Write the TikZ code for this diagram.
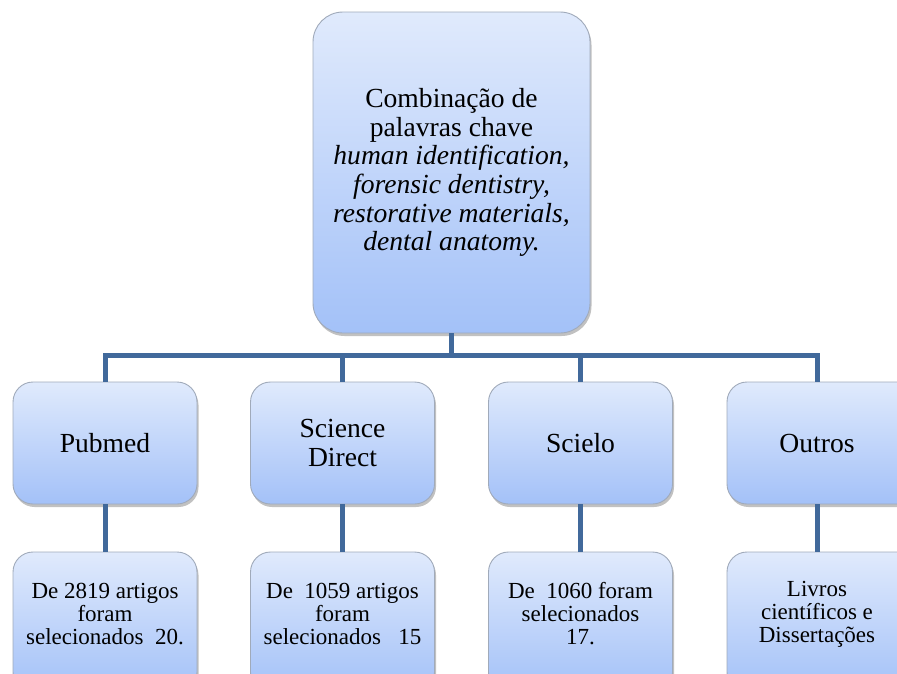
\documentclass[tikz,border=0pt]{standalone}
\usepackage{fontspec}
\setmainfont{Liberation Serif}
\usetikzlibrary{shadows}
\definecolor{conncol}{HTML}{41699B}
\definecolor{boxtop}{HTML}{E0EAFC}
\definecolor{boxbot}{HTML}{A3C1F8}
\definecolor{boxline}{HTML}{A0AABA}
\tikzset{
  card/.style={rectangle, draw=boxline, line width=0.9pt, top color=boxtop, bottom color=boxbot,
    align=center, inner sep=0pt, text=black,
    drop shadow={shadow xshift=1.5pt, shadow yshift=-3pt, opacity=0.35, fill=black!70}},
  topcard/.style={card, rounded corners=30pt, minimum width=277pt, minimum height=321pt,
    font=\fontsize{27.6}{28.6}\selectfont},
  midcard/.style={card, rounded corners=20pt, minimum width=184pt, minimum height=122pt,
    font=\fontsize{27.6}{29}\selectfont},
  lowcard/.style={card, rounded corners=20pt, minimum width=184pt, minimum height=140pt},
  lowtext/.style={align=center, inner sep=0pt, font=\fontsize{23}{23}\selectfont},
  midtext/.style={align=center, inner sep=0pt, font=\fontsize{27.6}{29}\selectfont},
  conn/.style={draw=conncol, line width=5pt}
}
\begin{document}
\begin{tikzpicture}[x=1pt,y=1pt]
\useasboundingbox (0,0) rectangle (897,-673);
\clip (0,0) rectangle (897,-673);
\coordinate (busY) at (0,-355);
% boxes
\node[topcard] (top) at (451.5,-172.5) {Combinação de\\palavras chave\\\textit{human identification,}\\\textit{forensic dentistry,}\\\textit{restorative materials,}\\\textit{dental anatomy.}};
\node[midcard] (pub) at (105,-443) {Pubmed};
\node[midcard] (sci) at (342.5,-443) {Science\\Direct};
\node[midcard] (sel) at (580.5,-443) {Scielo};
\node[midcard, minimum width=230pt] (outbg) at (842,-443) {};
\node[midtext] (out) at (817,-443) {Outros};
\node[lowcard] (pubr) at (105,-622) {};
\node[lowcard] (scir) at (342.5,-622) {};
\node[lowcard] (selr) at (580.5,-622) {};
\node[lowcard, minimum width=230pt] (outr) at (842,-622) {};
\node[lowtext] (pubt) at (105,-614) {De 2819 artigos\\foram\\selecionados\ \ 20.};
\node[lowtext] (scit) at (342.5,-614) {De\ \ 1059 artigos\\foram\\selecionados\ \ \ 15};
\node[lowtext] (selt) at (580.5,-614) {De\ \ 1060 foram\\selecionados\\17.};
\node[lowtext] (outt) at (817,-614) {Livros\\científicos e\\Dissertações};
% connectors
\coordinate (c4) at (817,-382);
\coordinate (d4) at (817,-504);
\coordinate (e4) at (817,-552);
\begin{scope}[on background layer/.try]
\end{scope}
\draw[conn] (top.south) -- (top.south |- busY);
\draw[conn] (pub.north) -- (pub.north |- busY) -- (c4 |- busY) -- (c4);
\draw[conn] (sci.north) -- (sci.north |- busY);
\draw[conn] (sel.north) -- (sel.north |- busY);
\draw[conn] (pub.south) -- (pubr.north);
\draw[conn] (sci.south) -- (scir.north);
\draw[conn] (sel.south) -- (selr.north);
\draw[conn] (d4) -- (e4);
\end{tikzpicture}
\end{document}
